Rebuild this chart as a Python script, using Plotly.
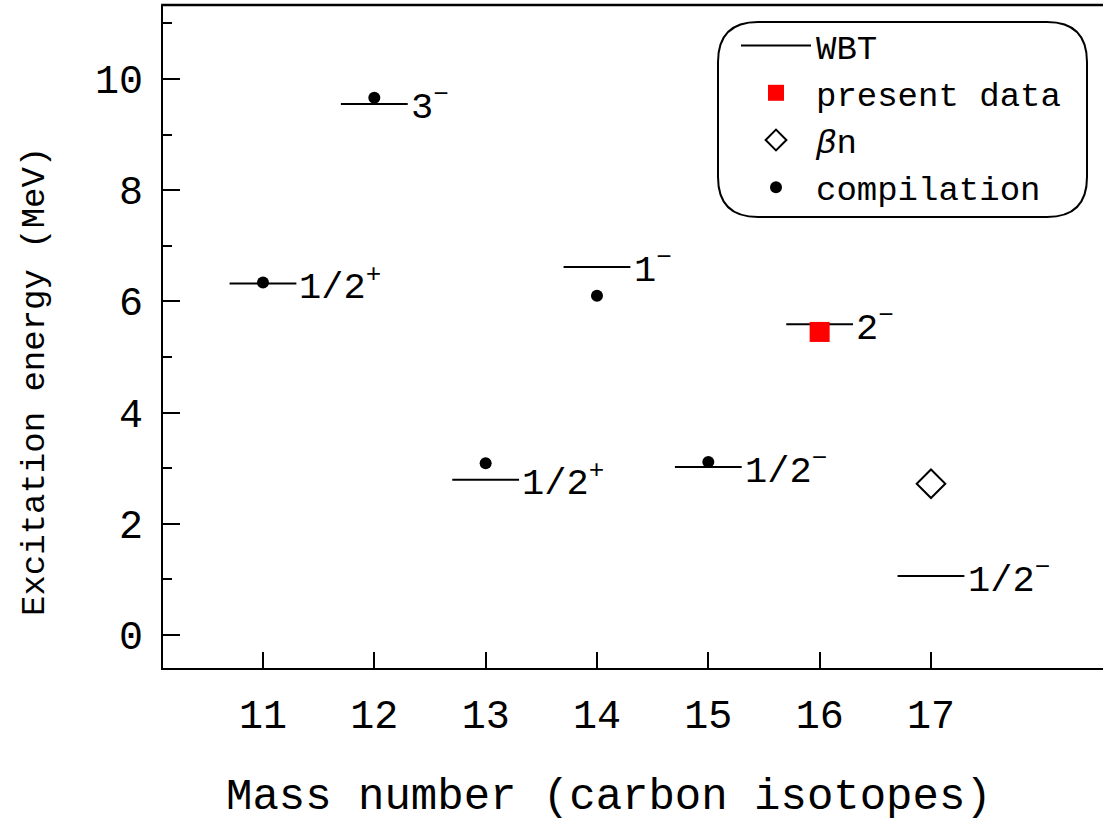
import plotly.graph_objects as go

# ---- data ----
mass = [11, 12, 13, 14, 15, 16, 17]
wbt_energy = [6.32, 9.55, 2.79, 6.62, 3.02, 5.59, 1.06]
wbt_labels = ["1/2<sup>+</sup>", "3<sup>\u2212</sup>", "1/2<sup>+</sup>", "1<sup>\u2212</sup>",
              "1/2<sup>\u2212</sup>", "2<sup>\u2212</sup>", "1/2<sup>\u2212</sup>"]
comp_mass = [11, 12, 13, 14, 15]
comp_energy = [6.34, 9.66, 3.09, 6.10, 3.11]
present_mass = [16]
present_energy = [5.45]
bn_mass = [17]
bn_energy = [2.72]

HALF = 0.3
FONT = "Liberation Mono"
H = 663  # plot height in px

seg_x, seg_y = [], []
for m, e in zip(mass, wbt_energy):
    seg_x += [m - HALF, m + HALF, None]
    seg_y += [e, e, None]

fig = go.Figure()
fig.add_trace(go.Scatter(x=seg_x, y=seg_y, mode="lines", name="WBT",
                         line=dict(color="black", width=2)))
fig.add_trace(go.Scatter(x=present_mass, y=present_energy, mode="markers", name="present data",
                         marker=dict(symbol="square", size=20, color="red")))
fig.add_trace(go.Scatter(x=bn_mass, y=bn_energy, mode="markers", name="<i>\u03b2</i>n",
                         marker=dict(symbol="diamond-open", size=22, color="black",
                                     line=dict(width=2, color="black"))))
fig.add_trace(go.Scatter(x=comp_mass, y=comp_energy, mode="markers", name="compilation",
                         marker=dict(symbol="circle", size=12, color="black")))

for m, e, t in zip(mass, wbt_energy, wbt_labels):
    fig.add_annotation(x=m + HALF + 0.01, y=e, text=t, showarrow=False, xanchor="left",
                       yanchor="middle", yshift=-1, font=dict(family=FONT, size=37, color="black"))

# axis titles
fig.add_annotation(xref="paper", yref="paper", x=(609 - 163) / 940, y=-(770 - 668) / H,
                   text="Mass number (carbon isotopes)", showarrow=False, yanchor="top",
                   font=dict(family=FONT, size=44, color="black"))
fig.add_annotation(xref="paper", yref="paper", x=(35 - 163) / 940, y=(668 - 382) / H,
                   text="Excitation energy (MeV)", showarrow=False, textangle=-90,
                   xanchor="center", yanchor="middle",
                   font=dict(family=FONT, size=34, color="black"))

# top frame line
fig.add_shape(type="line", xref="paper", yref="paper", x0=-0.002, x1=1, y0=1, y1=1,
              line=dict(color="black", width=2.5))

# rounded legend box
x0, x1, y0, y1 = (718 - 163) / 940, (1087 - 163) / 940, (668 - 217) / H, (668 - 22) / H
rx, ry = 40 / 940, 40 / H
path = (f"M {x0+rx},{y1} L {x1-rx},{y1} Q {x1},{y1} {x1},{y1-ry} L {x1},{y0+ry} "
        f"Q {x1},{y0} {x1-rx},{y0} L {x0+rx},{y0} Q {x0},{y0} {x0},{y0+ry} "
        f"L {x0},{y1-ry} Q {x0},{y1} {x0+rx},{y1} Z")
fig.add_shape(type="path", xref="paper", yref="paper", path=path,
              line=dict(color="black", width=2))

fig.update_layout(
    width=1103, height=822,
    margin=dict(l=163, r=0, t=5, b=154),
    paper_bgcolor="white", plot_bgcolor="white",
    font=dict(family=FONT, color="black"),
    showlegend=True,
    legend=dict(x=(736 - 163) / 940, y=(668 - 17) / H, xanchor="left", yanchor="top",
                bgcolor="rgba(0,0,0,0)", borderwidth=0, itemwidth=70,
                font=dict(family=FONT, size=34, color="black"), tracegroupgap=0),
    xaxis=dict(range=[10.102, 18.545], showgrid=False, zeroline=False,
               showline=True, linecolor="black", linewidth=2,
               tickmode="array", tickvals=mass, ticks="inside", ticklen=16,
               tickwidth=2, tickcolor="black", ticklabelstandoff=10,
               tickfont=dict(family=FONT, size=40, color="black")),
    yaxis=dict(range=[-0.594, 11.33], showgrid=False, zeroline=False,
               showline=True, linecolor="black", linewidth=2,
               dtick=2, tick0=0, ticks="inside", ticklen=17, tickwidth=2, tickcolor="black",
               ticklabelstandoff=10,
               minor=dict(dtick=1, tick0=1, ticks="inside", ticklen=9, tickwidth=2,
                          tickcolor="black", showgrid=False),
               tickfont=dict(family=FONT, size=40, color="black")),
)

fig.write_html("out.html", config={"displayModeBar": False},
               post_script="document.body.style.margin='0';")
